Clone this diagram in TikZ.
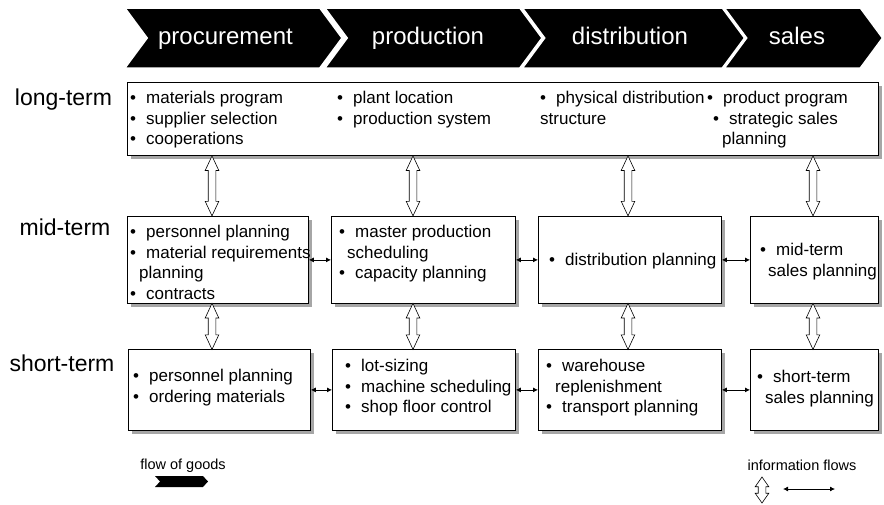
\documentclass[tikz,border=0pt]{standalone}
\usepackage{fontspec}
\setmainfont{Liberation Sans}
\usetikzlibrary{shapes.arrows,shapes.symbols,shadows,arrows.meta}
\newcommand{\bul}{\makebox[16pt][l]{\textbullet}}

\begin{document}
\begin{tikzpicture}[x=1pt,y=-1pt,
  stage/.style={signal, signal from=west, signal to=east, signal pointer angle=107, fill=black, draw=white, line width=1.5pt, text=white, minimum height=60pt, inner sep=0pt, text height=17pt, text depth=5pt, font=\fontsize{24}{28}\selectfont},
  term/.style={font=\fontsize{23}{27}\selectfont},
  box/.style={draw, fill=white, line width=0.8pt, anchor=north west, inner sep=0pt, drop shadow={shadow xshift=4pt, shadow yshift=-4pt, fill=black!35, opacity=1}},
  txt/.style={anchor=north west, align=left, inner sep=0pt, font=\fontsize{17}{20.5}\selectfont},
  vflow/.style={double arrow, rotate=90, draw, fill=white, line width=0.6pt, inner xsep=0pt, inner ysep=3.5pt, double arrow head extend=3pt, double arrow tip angle=50},
  hflow/.style={{Latex[length=5pt,width=5pt]}-{Latex[length=5pt,width=5pt]}, line width=0.8pt},
  legendtxt/.style={font=\fontsize{14.5}{17}\selectfont}]

\useasboundingbox (0,0) rectangle (884,504);

\node[stage, minimum width=217pt] (proc) at (233.5,38) {procurement\hspace*{16pt}};
\node[stage, minimum width=217pt] (prod) at (433.5,38) {production\hspace*{11pt}};
\node[stage, minimum width=222pt] (dist) at (633.5,38) {distribution\hspace*{7pt}};
\node[stage, minimum width=158pt] (sale) at (803.5,38) {sales\hspace*{13pt}};

\node[term] (long) at (63.5,100) {long-term};
\node[term] (mid) at (65,227) {mid-term};
\node[term] (short) at (62,363) {short-term};

\node[box, minimum width=751pt, minimum height=73pt] (lt) at (127,82) {};
\node[box, minimum width=181pt, minimum height=87pt] (m1) at (127,216) {};
\node[box, minimum width=184pt, minimum height=87pt] (m2) at (331,216) {};
\node[box, minimum width=183pt, minimum height=87pt] (m3) at (538,216) {};
\node[box, minimum width=128pt, minimum height=87pt] (m4) at (750,216) {};
\node[box, minimum width=182pt, minimum height=81pt] (s1) at (128,349) {};
\node[box, minimum width=183pt, minimum height=81pt] (s2) at (332,349) {};
\node[box, minimum width=183pt, minimum height=81pt] (s3) at (538,349) {};
\node[box, minimum width=128pt, minimum height=81pt] (s4) at (750,349) {};

\node[txt] (lt1) at (130,91) {\bul materials program\\ \bul supplier selection\\ \bul cooperations};
\node[txt] (lt2) at (337,91) {\bul plant location\\ \bul production system};
\node[txt] (lt3) at (540,91) {\bul physical distribution\\ structure};
\node[txt] (lt4) at (707,91) {\bul product program\\ \hspace*{6pt}\bul strategic sales\\ \hspace*{15pt}planning};

\node[txt] (mt1) at (130,225) {\bul personnel planning\\ \bul material requirements\\ \hspace*{9pt}planning\\ \bul contracts};
\node[txt] (mt2) at (339,225) {\bul master production\\ \hspace*{8pt}scheduling\\ \bul capacity planning};
\node[txt] (mt3) at (549,253) {\bul distribution planning};
\node[txt] (mt4) at (760,243) {\bul mid-term\\ \hspace*{8pt}sales planning};

\node[txt] (st1) at (133,369) {\bul personnel planning\\ \bul ordering materials};
\node[txt] (st2) at (345,359) {\bul lot-sizing\\ \bul machine scheduling\\ \bul shop floor control};
\node[txt] (st3) at (546,359) {\bul warehouse\\ \hspace*{9pt}replenishment\\ \bul transport planning};
\node[txt] (st4) at (757,370) {\bul short-term\\ \hspace*{8pt}sales planning};

\coordinate (x1) at (212,0);
\coordinate (x2) at (413,0);
\coordinate (x3) at (628,0);
\coordinate (x4) at (813,0);

\path (lt.south -| x1) -- (m1.north -| x1) node[midway, vflow, minimum height=60pt] {};
\path (lt.south -| x2) -- (m2.north -| x2) node[midway, vflow, minimum height=60pt] {};
\path (lt.south -| x3) -- (m3.north -| x3) node[midway, vflow, minimum height=60pt] {};
\path (lt.south -| x4) -- (m4.north -| x4) node[midway, vflow, minimum height=60pt] {};

\path (m1.south -| x1) -- (s1.north -| x1) node[midway, vflow, minimum height=46pt] {};
\path (m2.south -| x2) -- (s2.north -| x2) node[midway, vflow, minimum height=46pt] {};
\path (m3.south -| x3) -- (s3.north -| x3) node[midway, vflow, minimum height=46pt] {};
\path (m4.south -| x4) -- (s4.north -| x4) node[midway, vflow, minimum height=46pt] {};

\draw[hflow] (m1) -- (m2);
\draw[hflow] (m2) -- (m3);
\draw[hflow] (m3) -- (m4);
\draw[hflow] (s1) -- (s2);
\draw[hflow] (s2) -- (s3);
\draw[hflow] (s3) -- (s4);

\node[legendtxt] (goods) at (183,466) {flow of goods};
\node[stage, minimum width=53pt, minimum height=11pt, text height=0pt, text depth=0pt, signal pointer angle=95, draw=none] (goodsarrow) at (181.5,481.5) {};
\node[legendtxt] (info) at (802,465) {information flows};
\node[vflow, minimum height=26pt, double arrow tip angle=70] (infov) at (762,490) {};
\coordinate (h1) at (783,489);
\coordinate (h2) at (835,489);
\draw[hflow] (h1) -- (h2);

\end{tikzpicture}
\end{document}
